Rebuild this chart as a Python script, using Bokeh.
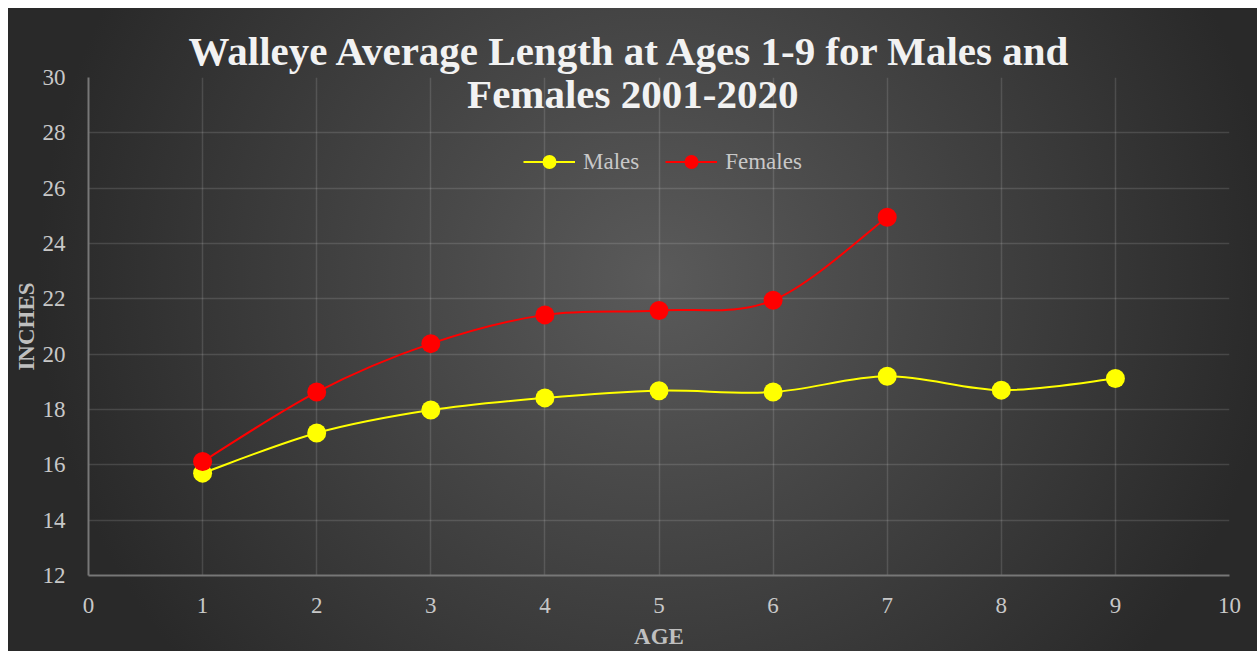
from bokeh.plotting import figure
from bokeh.models import (Range1d, FixedTicker, Label, Legend, LegendItem, Title)
from bokeh.embed import file_html
from bokeh.resources import INLINE

# ---- data ----
ages = [1, 2, 3, 4, 5, 6, 7, 8, 9]
males = [15.7, 17.15, 17.98, 18.42, 18.68, 18.63, 19.2, 18.7, 19.12]
female_ages = [1, 2, 3, 4, 5, 6, 7]
females = [16.12, 18.63, 20.38, 21.42, 21.58, 21.95, 24.95]
x_ticks = [0, 1, 2, 3, 4, 5, 6, 7, 8, 9, 10]
y_ticks = [12, 14, 16, 18, 20, 22, 24, 26, 28, 30]
title_lines = ["Walleye Average Length at Ages 1-9 for Males and", "Females 2001-2020"]

SERIF = "Liberation Serif"

p = figure(width=1249, height=643, output_backend="svg", toolbar_location=None,
           x_range=Range1d(x_ticks[0], x_ticks[-1]), y_range=Range1d(y_ticks[0], y_ticks[-1]),
           min_border_left=80, min_border_right=28, min_border_top=69, min_border_bottom=74)
p.margin = (8, 0, 0, 8)
p.border_fill_color = None
p.background_fill_color = None
p.outline_line_color = None
p.styles = {"background": "radial-gradient(ellipse 620px 600px at 650px 270px, #5a5a5a 0%, #292929 100%)"}

# axes
for ax, ticks in ((p.xaxis, x_ticks), (p.yaxis, y_ticks)):
    ax.ticker = FixedTicker(ticks=ticks)
    ax.major_tick_line_color = None
    ax.minor_tick_line_color = None
    ax.major_label_text_font = SERIF
    ax.major_label_text_font_size = "23px"
    ax.major_label_text_color = "#c8c8c8"
    ax.axis_line_color = "#777777"
    ax.axis_line_width = 2
    ax.axis_label_text_font = SERIF
    ax.axis_label_text_font_style = "bold"
    ax.axis_label_text_font_size = "23px"
    ax.axis_label_text_color = "#bfbfbf"
p.xaxis.axis_label = "AGE"
p.yaxis.axis_label = "INCHES"
p.xaxis.major_label_standoff = 16
p.yaxis.major_label_standoff = 17
p.xaxis.axis_label_standoff = 8
p.yaxis.axis_label_standoff = 1

p.xgrid.ticker = FixedTicker(ticks=x_ticks)
p.ygrid.ticker = FixedTicker(ticks=y_ticks)
p.grid.grid_line_color = "#ffffff"
p.grid.grid_line_alpha = 0.13
p.grid.grid_line_width = 1.5


def smooth(xs, ys):
    n = len(xs)
    out = dict(x0=[], y0=[], x1=[], y1=[], cx0=[], cy0=[], cx1=[], cy1=[])
    for i in range(n - 1):
        a = i - 1 if i > 0 else i
        d = i + 2 if i + 2 < n else i + 1
        out["x0"].append(xs[i]); out["y0"].append(ys[i])
        out["x1"].append(xs[i + 1]); out["y1"].append(ys[i + 1])
        out["cx0"].append(xs[i] + (xs[i + 1] - xs[a]) / 6)
        out["cy0"].append(ys[i] + (ys[i + 1] - ys[a]) / 6)
        out["cx1"].append(xs[i + 1] - (xs[d] - xs[i]) / 6)
        out["cy1"].append(ys[i + 1] - (ys[d] - ys[i]) / 6)
    return out


items = []
for name, xs, ys, col in (("Males", ages, males, "#ffff00"),
                          ("Females", female_ages, females, "#ff0000")):
    b = p.bezier(line_color=col, line_width=2, **smooth(xs, ys))
    s = p.scatter(xs, ys, size=19, fill_color=col, line_color=None)
    items.append(LegendItem(label=name, renderers=[b, s]))

legend = Legend(items=items, orientation="horizontal", location=(435, 396),
                padding=0, margin=0, spacing=26, glyph_width=52, glyph_height=35,
                label_standoff=8, label_text_font=SERIF, label_text_font_size="23px",
                label_text_color="#c8c8c8", background_fill_alpha=0, border_line_alpha=0)
p.add_layout(legend, "center")

# title: first line as a real title above the frame, second line overlaps the frame
p.add_layout(Title(text=title_lines[0], align="left", offset=100, standoff=7,
                   text_font=SERIF, text_font_style="bold", text_font_size="41px",
                   text_color="#f2f2f2"), "above")
p.add_layout(Label(x=4.77, y=29.4, text=title_lines[1], text_font=SERIF, text_font_style="bold",
                   text_font_size="41px", text_color="#f2f2f2",
                   text_align="center", text_baseline="alphabetic"))

open("out.html", "w").write(file_html(p, INLINE))
